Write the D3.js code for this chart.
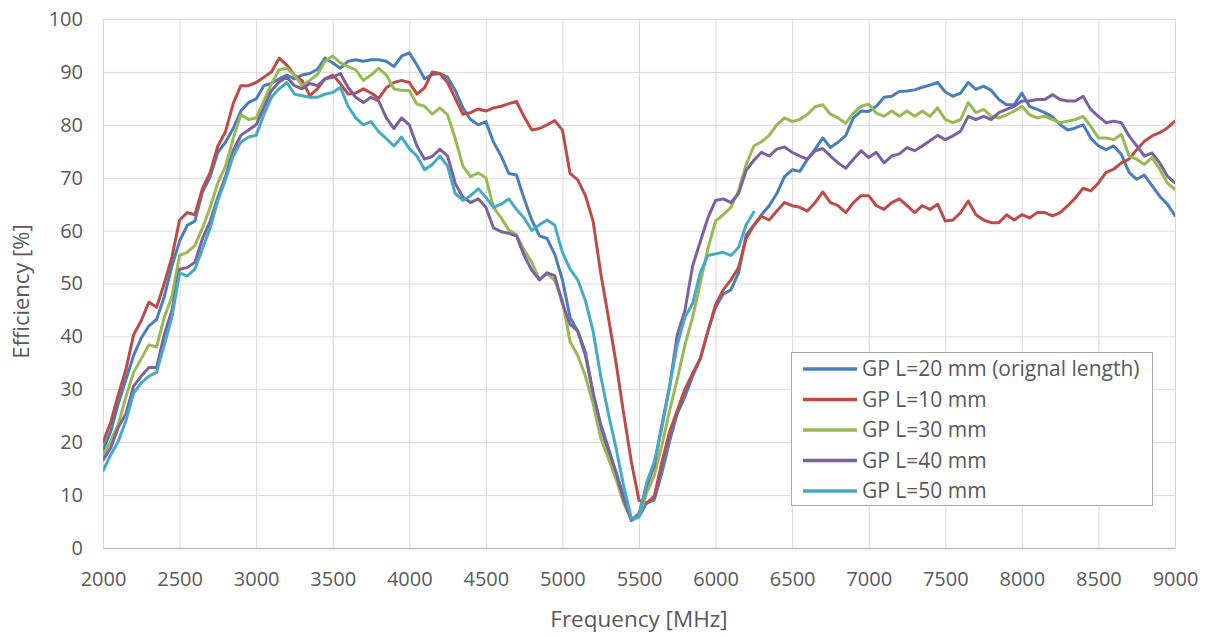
<!DOCTYPE html>
<html>
<head>
<meta charset="utf-8">
<script src="https://cdn.jsdelivr.net/npm/d3@7"></script>
<style>
  html, body { margin: 0; padding: 0; background: #fff; }
  svg { display: block; font-family: "Open Sans", "Noto Sans", sans-serif; }
</style>
</head>
<body>
<svg id="chart" width="1207" height="637"></svg>
<script>
// ---------------- data ----------------
const freqStart = 2000, freqEnd = 9000, freqStep = 50;
const xTicks = [2000, 2500, 3000, 3500, 4000, 4500, 5000, 5500, 6000, 6500, 7000, 7500, 8000, 8500, 9000];
const yTicks = [0, 10, 20, 30, 40, 50, 60, 70, 80, 90, 100];
const seriesNames = ["GP L=20 mm (orignal length)", "GP L=10 mm", "GP L=30 mm", "GP L=40 mm", "GP L=50 mm"];
const seriesColors = ["#4a7ebb", "#be4b48", "#98b954", "#7d60a0", "#46aac5"];

// efficiency [%] sampled every 50 MHz from 2000 MHz
const effL20 = [18.5,22,27.3,31.9,36.4,39.7,42,43.2,47.5,53.3,58,61,61.8,67.3,70.2,74.8,76.7,79.3,82.6,84.2,
  84.9,87.4,87.8,88.7,89.4,88.7,89.4,89.7,90.5,92.6,91.7,90.7,92,92.3,92,92.3,92.3,92,91,93,
  93.6,91.3,88.7,89.5,89.7,89,86.5,83.2,81,80,80.6,76.7,74.1,70.8,70.5,66,62,59,58.5,55.5,
  50.7,43.6,41,36.4,29.3,22.8,18.2,14.3,9.8,5.2,5.9,8.5,9.1,14.3,20.2,25.4,28.6,32.5,35.8,41,
  45.5,48,48.8,52,59.2,61,63,64.7,67,70.2,71.5,71.2,73.5,75.4,77.5,75.7,76.7,78,81.3,82.6,
  82.5,83.5,85.2,85.4,86.3,86.4,86.6,87.1,87.5,88,86.2,85.4,86,88,86.7,87.3,86.5,84.8,83.8,83.8,
  86,83.5,82.9,82.3,81.5,80,79,79.4,80,77.5,76,75.3,76,74.4,71,69.7,70.5,68.5,66.5,65,62.8];
const effL10 = [20,23.7,29,33.8,40.3,43,46.5,45.5,50,55,62,63.4,63,68,71,76,78.7,84,87.4,87.4,
  88,89,90,92.6,91.3,89.4,88.4,85.5,86.8,88.7,89.4,87.8,85.8,86,86.8,86,85,87,88,88.4,
  88,85.8,87,90,89.7,88,85,82,82.3,83,82.6,83.2,83.5,84,84.4,81.5,79,79.3,80,80.8,
  79,70.8,69.6,66.6,61.8,52,43.6,35,25.4,16.3,9,8.5,9.8,16.3,22,26,30,33,35.8,41,
  46,48.8,50.7,53,58.5,61,62.7,62,63.7,65.3,64.7,64.4,63.7,65.3,67.3,65.3,64.7,63.4,65.3,66.6,
  66.6,64.7,64,65.3,66,64.7,63.4,64.7,64,65,61.8,62,63.4,65.6,63,62,61.5,61.5,63,62,
  63,62.4,63.4,63.4,62.8,63.4,64.7,66.2,68,67.5,69,71,71.6,72.8,73.5,75.3,76.9,77.9,78.5,79.4,80.7];
const effL30 = [17.5,20.2,23.4,28.6,33.2,35.8,38.4,38,43.6,47.5,55.3,55.9,57.2,60.5,64.4,69,72.2,77.4,81.9,81,
  81.3,84.5,87.8,90.4,90.7,89.4,87.4,88.4,89.5,92,93,91.7,91,90.4,88.4,89.4,90.7,89.4,86.8,86.5,
  86.5,83.9,83.5,82,83.2,81.9,77.4,72.2,70.2,70.9,70,64.4,62.4,60.1,59.2,56.3,54,50.7,52,50.5,
  46.8,39,36.4,32.5,27.3,20.8,16.9,13,8.5,5.3,5.9,10.4,13.7,19.5,26,31.9,38.4,43.6,50,56.6,
  61.8,63,64.4,67.5,72.5,76,76.8,78,80,81.3,80.6,81,82,83.4,83.8,82,81.3,80.3,82.2,83.5,
  83.9,82.2,81.6,82.6,81.6,82.6,81.6,82.6,81.6,83.2,81,80.4,81,84.2,82.3,82.9,81.6,81.3,81.9,82.6,
  83.5,81.9,81.3,81.6,81,80.4,80.7,81,81.6,79.7,77.5,77.5,77.2,78.2,74.1,73.5,72.5,73.8,71.6,69,67.8];
const effL40 = [16.6,18.9,22.8,25.4,30.6,32.5,34.1,34.1,40.3,44.9,52.7,53,54,58.5,61.8,66.3,70.2,75.1,78,79,
  80,83.2,86.5,88.1,89,87.4,86.8,87.8,87.4,88.7,89,89.7,87.1,85.2,84.2,85.2,84.5,81.3,79.3,81.3,
  80,76,73.5,74,75.4,74.1,68.9,66.3,65.3,66,64.4,60.5,59.8,59.5,59,55.3,52.5,50.7,52,51.5,
  46.2,42.3,41,37,29.3,23.4,18.9,14.3,9.1,5.3,6.5,11.7,15.6,23.4,30.6,40.3,44.9,53.3,57.9,62.4,
  65.7,66,65.3,67,71.4,73.3,74.8,74.1,75.4,75.8,74.8,74.1,73.5,75.1,75.5,74.1,72.8,71.8,73.5,75.1,
  73.8,74.8,72.8,74.1,74.5,75.7,75.1,76,77,78,77.2,77.9,78.8,81.6,81,81.6,81,82.3,82.9,83.5,
  84.5,84.5,84.8,84.8,85.7,84.8,84.5,84.5,85.4,82.9,81.6,80.4,80.7,80.4,77.9,76,74.1,74.7,72.8,70.3,69];
const effL50 = [14.6,17.6,20.2,24.1,29.3,31.2,32.5,33.2,38.4,43.6,52,51.4,52.7,56.6,60.5,65.7,69.6,74.1,76.7,77.7,
  78,81.9,85.2,86.8,88,85.8,85.5,85.2,85.2,85.8,86.1,87.1,83.5,81.3,80,80.6,78.7,77.4,76,77.7,
  75.5,74.1,71.5,72.5,74.1,72.2,67,65.7,66.6,67.9,66.3,64.4,65,66,64,62.4,60,61.1,62,61,
  55.9,52.7,50.7,46.8,41,32.5,25.4,18.9,11.7,5.6,5.9,12.4,16.3,22.8,30.6,38.4,43.6,46.2,52,55.3,
  55.6,55.9,55.3,56.8,61.1,63.5];

const seriesValues = [effL20, effL10, effL30, effL40, effL50];

// ---------------- layout ----------------
const svg = d3.select("#chart");
const plot = { left: 103, right: 1175, top: 19, bottom: 548 };
const textColor = "#595959";

const x = d3.scaleLinear().domain([freqStart, freqEnd]).range([plot.left, plot.right]);
const y = d3.scaleLinear().domain([0, 100]).range([plot.bottom, plot.top]);

// gridlines
svg.append("g")
  .attr("transform", `translate(0,${plot.bottom})`)
  .call(d3.axisBottom(x).tickValues(xTicks).tickSize(-(plot.bottom - plot.top)).tickFormat(""))
  .call(g => g.select(".domain").remove())
  .call(g => g.selectAll("line").attr("stroke", "#d9d9d9").attr("stroke-width", 1));

svg.append("g")
  .attr("transform", `translate(${plot.left},0)`)
  .call(d3.axisLeft(y).tickValues(yTicks).tickSize(-(plot.right - plot.left)).tickFormat(""))
  .call(g => g.select(".domain").remove())
  .call(g => g.selectAll("line").attr("stroke", "#d9d9d9").attr("stroke-width", 1));

// x axis labels + baseline
const xAxis = svg.append("g")
  .attr("transform", `translate(0,${plot.bottom})`)
  .call(d3.axisBottom(x).tickValues(xTicks).tickSize(0).tickPadding(24).tickFormat(d3.format("d")));
xAxis.select(".domain").attr("stroke", "#bfbfbf").attr("stroke-width", 1.3);
xAxis.selectAll("text").attr("fill", textColor).attr("font-size", 20).attr("font-family", "Open Sans");

// y axis labels
const yAxis = svg.append("g")
  .attr("transform", `translate(${plot.left},0)`)
  .call(d3.axisLeft(y).tickValues(yTicks).tickSize(0).tickPadding(20).tickFormat(d3.format("d")));
yAxis.select(".domain").remove();
yAxis.selectAll("text").attr("fill", textColor).attr("font-size", 20).attr("font-family", "Open Sans");

// axis titles
svg.append("text")
  .attr("x", (plot.left + plot.right) / 2)
  .attr("y", 627)
  .attr("text-anchor", "middle")
  .attr("fill", textColor)
  .attr("font-size", 22.5)
  .text("Frequency [MHz]");

svg.append("text")
  .attr("transform", `translate(29,${(plot.top + plot.bottom) / 2 + 8}) rotate(-90)`)
  .attr("text-anchor", "middle")
  .attr("fill", textColor)
  .attr("font-size", 22)
  .text("Efficiency [%]");

// lines
const line = d3.line()
  .x((d, i) => x(freqStart + i * freqStep))
  .y(d => y(d));

svg.append("clipPath").attr("id", "clip")
  .append("rect")
  .attr("x", plot.left).attr("y", plot.top - 5)
  .attr("width", plot.right - plot.left).attr("height", plot.bottom - plot.top + 5);

svg.append("g")
  .attr("clip-path", "url(#clip)")
  .selectAll("path")
  .data(seriesValues)
  .join("path")
  .attr("d", d => line(d))
  .attr("fill", "none")
  .attr("stroke", (d, i) => seriesColors[i])
  .attr("stroke-width", 3)
  .attr("stroke-linejoin", "round")
  .attr("stroke-linecap", "round");

// legend
const legend = svg.append("g");
legend.append("rect")
  .attr("x", 791.5).attr("y", 352.5)
  .attr("width", 361).attr("height", 153)
  .attr("fill", "#fff")
  .attr("stroke", "#a6a6a6")
  .attr("stroke-width", 1);

const legendRows = [369, 399.5, 430, 460.5, 491];
seriesNames.forEach((name, i) => {
  legend.append("line")
    .attr("x1", 803).attr("x2", 857)
    .attr("y1", legendRows[i]).attr("y2", legendRows[i])
    .attr("stroke", seriesColors[i])
    .attr("stroke-width", 3.5);
  legend.append("text")
    .attr("x", 862).attr("y", legendRows[i])
    .attr("dy", "0.35em")
    .attr("fill", textColor)
    .attr("font-size", 21)
    .text(name);
});
</script>
</body>
</html>
